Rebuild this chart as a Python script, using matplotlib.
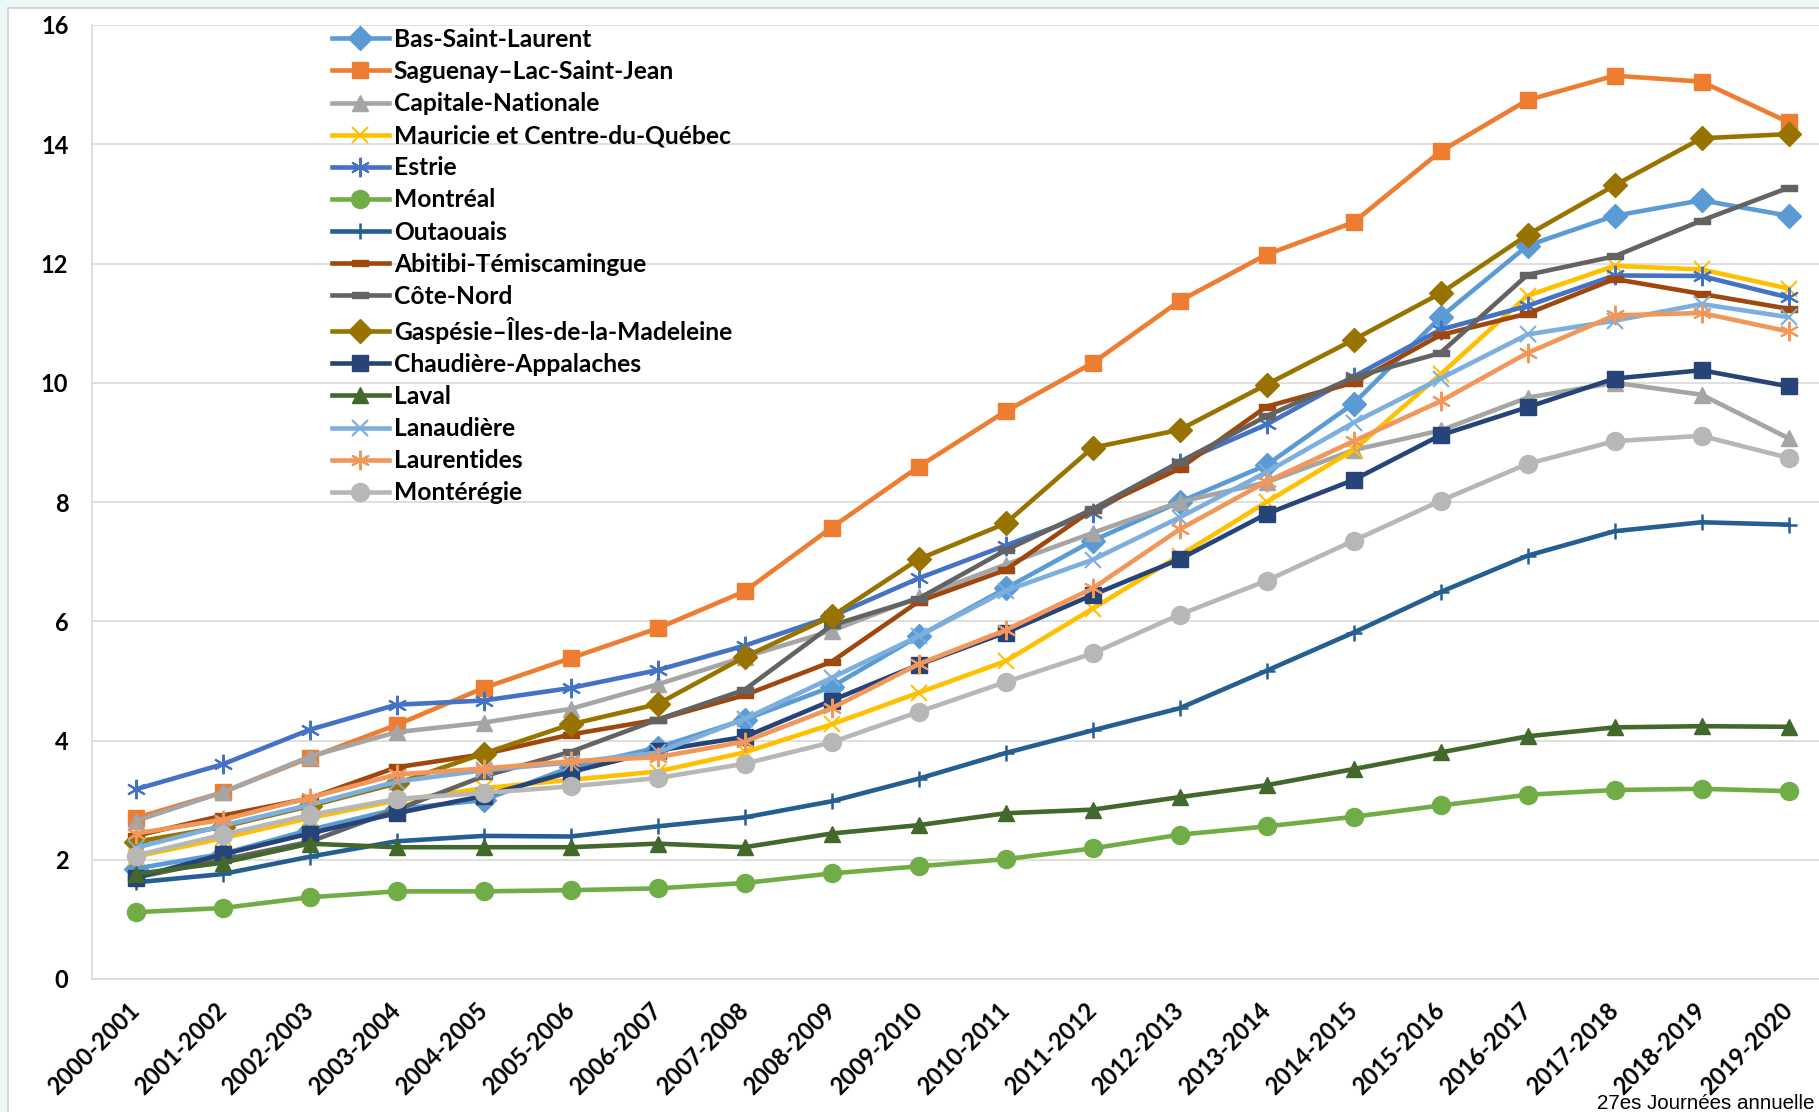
import numpy as np
import matplotlib
matplotlib.use('Agg')
import matplotlib.pyplot as plt
import matplotlib.patches as patches

# School years on the x axis
years = ['2000-2001', '2001-2002', '2002-2003', '2003-2004', '2004-2005',
         '2005-2006', '2006-2007', '2007-2008', '2008-2009', '2009-2010',
         '2010-2011', '2011-2012', '2012-2013', '2013-2014', '2014-2015',
         '2015-2016', '2016-2017', '2017-2018', '2018-2019', '2019-2020']

# Values per region
bas_saint_laurent = [1.85, 2.1, 2.5, 2.85, 3.0, 3.55, 3.88, 4.35, 4.9, 5.75,
                     6.55, 7.35, 8.0, 8.62, 9.65, 11.1, 12.3, 12.8, 13.06, 12.8]
saguenay = [2.7, 3.13, 3.71, 4.26, 4.88, 5.38, 5.88, 6.5, 7.57, 8.59,
            9.52, 10.33, 11.37, 12.15, 12.69, 13.88, 14.74, 15.15, 15.05, 14.37]
capitale_nationale = [2.65, 3.13, 3.73, 4.14, 4.3, 4.53, 4.94, 5.4, 5.84, 6.4,
                      6.95, 7.48, 8.0, 8.33, 8.87, 9.2, 9.75, 10.0, 9.8, 9.07]
mauricie = [2.05, 2.36, 2.7, 2.99, 3.2, 3.34, 3.48, 3.8, 4.27, 4.8,
            5.33, 6.21, 7.1, 8.0, 8.87, 10.14, 11.46, 11.96, 11.9, 11.58]
estrie = [3.18, 3.6, 4.18, 4.6, 4.67, 4.88, 5.18, 5.59, 6.08, 6.72,
          7.27, 7.82, 8.66, 9.3, 10.1, 10.89, 11.29, 11.8, 11.79, 11.43]
montreal = [1.12, 1.19, 1.37, 1.47, 1.47, 1.49, 1.52, 1.61, 1.77, 1.89,
            2.01, 2.19, 2.42, 2.56, 2.72, 2.91, 3.09, 3.17, 3.19, 3.15]
outaouais = [1.62, 1.76, 2.05, 2.31, 2.4, 2.39, 2.56, 2.71, 2.98, 3.36,
             3.79, 4.17, 4.54, 5.17, 5.81, 6.49, 7.1, 7.51, 7.66, 7.62]
abitibi = [2.4, 2.74, 3.03, 3.55, 3.77, 4.1, 4.35, 4.76, 5.32, 6.33,
           6.86, 7.87, 8.56, 9.6, 10.0, 10.8, 11.16, 11.74, 11.49, 11.24]
cote_nord = [1.7, 2.0, 2.3, 2.84, 3.4, 3.81, 4.35, 4.85, 5.93, 6.38,
             7.19, 7.88, 8.67, 9.44, 10.09, 10.5, 11.81, 12.12, 12.72, 13.27]
gaspesie = [2.3, 2.55, 2.9, 3.28, 3.78, 4.27, 4.61, 5.4, 6.08, 7.04,
            7.64, 8.91, 9.21, 9.97, 10.72, 11.5, 12.48, 13.31, 14.1, 14.17]
chaudiere = [1.7, 2.09, 2.44, 2.78, 3.07, 3.47, 3.83, 4.06, 4.67, 5.27,
             5.81, 6.44, 7.04, 7.8, 8.37, 9.12, 9.59, 10.07, 10.21, 9.94]
laval = [1.76, 1.95, 2.27, 2.21, 2.21, 2.21, 2.27, 2.21, 2.44, 2.58,
         2.78, 2.84, 3.05, 3.25, 3.52, 3.8, 4.07, 4.22, 4.24, 4.23]
lanaudiere = [2.2, 2.57, 2.92, 3.31, 3.5, 3.63, 3.8, 4.36, 5.05, 5.75,
              6.51, 7.03, 7.74, 8.5, 9.33, 10.07, 10.81, 11.04, 11.32, 11.1]
laurentides = [2.44, 2.67, 3.04, 3.43, 3.53, 3.65, 3.72, 3.98, 4.54, 5.28,
               5.85, 6.55, 7.54, 8.34, 9.02, 9.69, 10.5, 11.13, 11.17, 10.86]
monteregie = [2.07, 2.42, 2.75, 3.02, 3.12, 3.23, 3.37, 3.61, 3.97, 4.48,
              4.98, 5.46, 6.11, 6.68, 7.35, 8.02, 8.64, 9.02, 9.11, 8.74]

regions = ['Bas-Saint-Laurent', 'Saguenay–Lac-Saint-Jean', 'Capitale-Nationale',
           'Mauricie et Centre-du-Québec', 'Estrie', 'Montréal', 'Outaouais',
           'Abitibi-Témiscamingue', 'Côte-Nord', 'Gaspésie–Îles-de-la-Madeleine',
           'Chaudière-Appalaches', 'Laval', 'Lanaudière', 'Laurentides',
           'Montérégie']
series = [bas_saint_laurent, saguenay, capitale_nationale, mauricie, estrie,
          montreal, outaouais, abitibi, cote_nord, gaspesie, chaudiere, laval,
          lanaudiere, laurentides, monteregie]

# Excel-like styling: colour, marker, marker size, marker edge width
dash = [(-1, -0.35), (1, -0.35), (1, 0.35), (-1, 0.35), (-1, -0.35)]
styles = [
    ('#5B9BD5', 'D', 12, 1),
    ('#ED7D31', 's', 12, 1),
    ('#A5A5A5', '^', 12, 1),
    ('#FFC000', 'x', 12, 1.5),
    ('#4472C4', (6, 2, 0), 14, 1.5),
    ('#70AD47', 'o', 13, 1),
    ('#255E91', '+', 11, 1.8),
    ('#9E480E', dash, 12, 1),
    ('#636363', dash, 12, 1),
    ('#997300', 'D', 12, 1),
    ('#264478', 's', 12, 1),
    ('#43682B', '^', 12, 1),
    ('#7CAFDD', 'x', 12, 1.5),
    ('#F1975A', (6, 2, 0), 14, 1.5),
    ('#B7B7B7', 'o', 13, 1),
]

W, H = 1819, 1112
fig = plt.figure(figsize=(W / 100, H / 100), dpi=100)
fig.patch.set_facecolor('#EDF7F7')

# white chart area with a thin grey border
frame = patches.Rectangle((8 / W, -0.01), 1.0, 1 - 8 / H + 0.01,
                          transform=fig.transFigure, facecolor='white',
                          edgecolor='#D0D0D0', lw=1.2, zorder=-5)
fig.patches.append(frame)

ax = fig.add_axes([92 / W, 133 / H, 1740 / W, 954 / H])
ax.set_facecolor('none')

x = np.arange(len(years))
for name, vals, (col, mk, ms, mew) in zip(regions, series, styles):
    ax.plot(x, vals, color=col, lw=3.3, marker=mk, markersize=ms,
            markerfacecolor=col, markeredgecolor=col, markeredgewidth=mew,
            label=name, solid_joinstyle='round')

ax.set_xlim(-0.5, len(years) - 0.5)
ax.set_ylim(0, 16)
ax.set_yticks(range(0, 17, 2))
ax.set_xticks(x)
ax.set_xticklabels(years, rotation=45, ha='right', va='center',
                   rotation_mode='anchor', fontsize=17,
                   fontfamily='Lato', fontweight='bold')
for lab in ax.get_yticklabels():
    lab.set_fontfamily('Lato')
    lab.set_fontweight('bold')
    lab.set_fontsize(17)
ax.tick_params(axis='both', length=0)
ax.tick_params(axis='y', pad=17)
ax.tick_params(axis='x', pad=20)

ax.grid(axis='y', color='#D9D9D9', lw=1.2)
ax.set_axisbelow(True)
for side in ['top', 'right']:
    ax.spines[side].set_visible(False)
for side in ['left', 'bottom']:
    ax.spines[side].set_color('#D9D9D9')
    ax.spines[side].set_linewidth(1.2)

leg = ax.legend(loc='upper left', bbox_to_anchor=(332 / W, 1 - 28 / H),
                bbox_transform=fig.transFigure, frameon=False,
                prop={'family': 'Lato', 'weight': 'bold', 'size': 17.7},
                handlelength=2.3, handletextpad=0.22, labelspacing=0.37,
                borderpad=0, borderaxespad=0)

fig.text(1597 / W, 3 / H, '27es Journées annuelle', family='Liberation Sans',
         fontsize=14.8, va='baseline', ha='left', color='black')

plt.savefig('out.png', dpi=100, facecolor=fig.get_facecolor())
